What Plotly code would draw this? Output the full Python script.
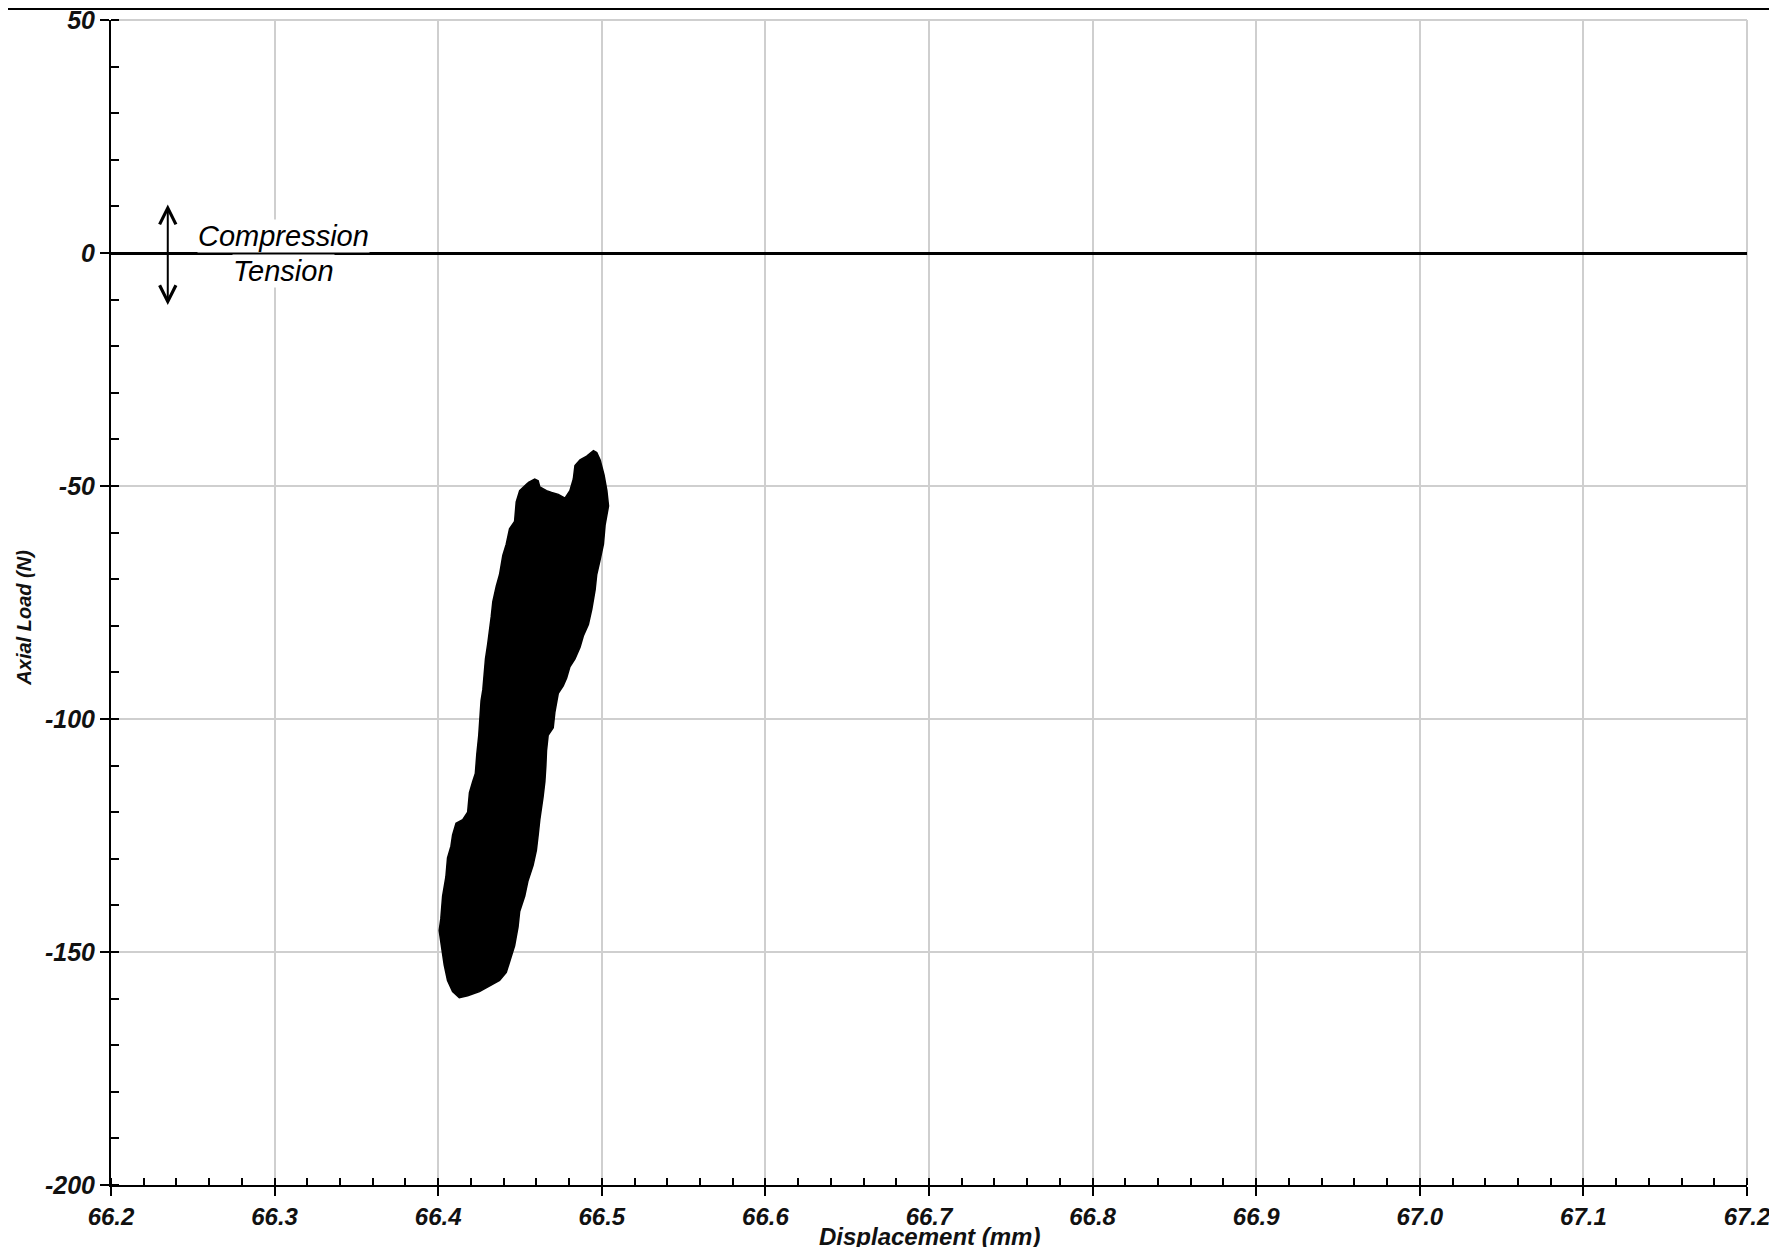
import plotly.graph_objects as go

# ---------------- data ----------------
# outline of the dense load/displacement cloud (mm, N)
blob_disp = [66.4549, 66.4498, 66.4477, 66.4467, 66.4436, 66.4416, 66.4395, 66.4375, 66.4355, 66.4334,
             66.4324, 66.4314, 66.4303, 66.4289, 66.4283, 66.4273, 66.4262, 66.4256, 66.4248, 66.4236,
             66.4227, 66.4211, 66.4191, 66.4180, 66.4150, 66.4109, 66.4088, 66.4078, 66.4057, 66.4047,
             66.4027, 66.4016, 66.4006, 66.4023, 66.4037, 66.4057, 66.4088, 66.4129, 66.4180, 66.4252,
             66.4314, 66.4375, 66.4416, 66.4447, 66.4467, 66.4488, 66.4498, 66.4529, 66.4549, 66.4580,
             66.4600, 66.4611, 66.4621, 66.4641, 66.4652, 66.4658, 66.4662, 66.4672, 66.4703, 66.4713,
             66.4723, 66.4734, 66.4764, 66.4785, 66.4805, 66.4836, 66.4867, 66.4887, 66.4918, 66.4939,
             66.4959, 66.4969, 66.4990, 66.5010, 66.5020, 66.5041, 66.5031, 66.5014, 66.4990, 66.4969,
             66.4949, 66.4908, 66.4867, 66.4836, 66.4826, 66.4805, 66.4775, 66.4734, 66.4693, 66.4662,
             66.4621, 66.4611, 66.4590, 66.4549]
blob_load = [-49.3, -51.0, -53.4, -57.6, -59.2, -62.5, -64.9, -69.0, -71.5, -74.8,
             -78.1, -81.4, -83.8, -87.1, -90.4, -93.7, -96.1, -100.2, -103.5, -107.6,
             -111.7, -113.4, -115.8, -120.0, -121.6, -122.4, -124.9, -127.3, -129.8, -133.9,
             -138.0, -142.9, -145.4, -149.5, -152.8, -156.1, -158.5, -159.8, -159.4, -158.5,
             -157.3, -156.1, -154.4, -151.1, -148.7, -144.6, -141.3, -138.0, -134.7, -131.4,
             -128.2, -124.9, -121.6, -116.7, -113.4, -110.1, -106.8, -103.5, -101.9, -98.6,
             -97.0, -94.5, -92.9, -91.2, -88.8, -87.1, -84.6, -82.2, -79.7, -76.4,
             -72.3, -69.0, -65.8, -62.5, -58.4, -54.3, -51.0, -47.7, -44.4, -42.8,
             -42.4, -43.6, -44.4, -45.6, -48.5, -51.0, -52.6, -51.8, -51.4, -51.0,
             -50.2, -48.9, -48.5, -49.3]

x_tick_vals = [66.2, 66.3, 66.4, 66.5, 66.6, 66.7, 66.8, 66.9, 67.0, 67.1, 67.2]
x_tick_text = ["66.2", "66.3", "66.4", "66.5", "66.6", "66.7", "66.8", "66.9", "67.0", "67.1", "67.2"]
y_tick_vals = [-200, -150, -100, -50, 0, 50]
y_tick_text = ["-200", "-150", "-100", "-50", "0", "50"]

x_range = [66.2, 67.2]
y_range = [-200, 50]

x_title = "Displacement (mm)"
y_title = "Axial Load (N)"
label_up = "Compression"
label_down = "Tension"
# arrow / label anchor positions (data units)
arrow_x = 66.2347
arrow_top = 10.4
arrow_bottom = -11.5
label_x = 66.3055
label_up_y = 3.6
label_down_y = -3.9

FONT = "Arial, 'Liberation Sans', Helvetica, sans-serif"

# page body has an 8px margin, so the figure is sized to fit inside the window
W, H = 1761, 1239
ML, MR, MT, MB = 103, 22, 12, 62
plot_w = W - ML - MR
plot_h = H - MT - MB

fig = go.Figure()
fig.add_trace(go.Scatter(
    x=blob_disp, y=blob_load, mode="lines", fill="toself",
    fillcolor="black", line=dict(color="black", width=1.5),
    showlegend=False, hoverinfo="skip"))

axis_common = dict(
    showline=True, linecolor="black", linewidth=2,
    ticks="outside", ticklen=9, tickwidth=2, tickcolor="black",
    showgrid=True, gridcolor="#cfcfcf", gridwidth=1.5,
    tickmode="array", automargin=False, ticklabeloverflow="allow",
)

fig.update_xaxes(
    **axis_common, range=x_range, tickvals=x_tick_vals, ticktext=x_tick_text,
    zeroline=False,
    tickfont=dict(family=FONT, size=24, color="#111111", weight="bold", style="italic"),
    minor=dict(tick0=66.2, dtick=0.02, ticks="inside", ticklen=7, tickwidth=2,
               tickcolor="black", showgrid=False),
)
fig.update_yaxes(
    **axis_common, range=y_range, tickvals=y_tick_vals, ticktext=y_tick_text,
    zeroline=True, zerolinecolor="black", zerolinewidth=2.5,
    tickfont=dict(family=FONT, size=25, color="#111111", weight="bold", style="italic"),
    minor=dict(tick0=-200, dtick=10, ticks="inside", ticklen=8, tickwidth=2,
               tickcolor="black", showgrid=False),
)

# axis titles
title_font = dict(family=FONT, color="#111111", weight="bold", style="italic")
fig.add_annotation(text=x_title, xref="paper", yref="paper", x=0.5, y=-51 / plot_h,
                   xanchor="center", yanchor="middle", showarrow=False,
                   font=dict(size=24, **title_font))
fig.add_annotation(text=y_title, xref="paper", yref="paper", x=-87 / plot_w, y=0.487,
                   xanchor="center", yanchor="middle", showarrow=False, textangle=-90,
                   font=dict(size=20, **title_font))

# gray top/right frame and black line above the plot
fig.add_shape(type="line", xref="paper", yref="paper", x0=0, x1=1, y0=1, y1=1,
              line=dict(color="#cfcfcf", width=2), layer="below")
fig.add_shape(type="line", xref="paper", yref="paper", x0=1, x1=1, y0=0, y1=1,
              line=dict(color="#cfcfcf", width=2), layer="below")
fig.add_shape(type="line", xref="paper", yref="paper",
              x0=-ML / plot_w, x1=(W - ML) / plot_w,
              y0=1 + 11 / plot_h, y1=1 + 11 / plot_h, line=dict(color="black", width=2))

# double arrow + labels
fig.add_annotation(x=arrow_x, y=arrow_top, ax=arrow_x, ay=arrow_bottom,
                   xref="x", yref="y", axref="x", ayref="y", text="",
                   showarrow=True, arrowside="end+start", arrowhead=5, startarrowhead=5,
                   arrowsize=1.6, startarrowsize=1.6, arrowwidth=2, arrowcolor="black",
                   standoff=0, startstandoff=0)
for txt, yy in [(label_up, label_up_y), (label_down, label_down_y)]:
    fig.add_annotation(x=label_x, y=yy, xref="x", yref="y", text=txt, showarrow=False,
                       font=dict(family=FONT, size=29, color="black", style="italic"),
                       bgcolor="white", borderpad=0)

fig.update_layout(
    width=W, height=H,
    margin=dict(l=ML, r=MR, t=MT, b=MB, autoexpand=False),
    paper_bgcolor="white", plot_bgcolor="white",
    showlegend=False,
)

fig.write_html("out.html")
